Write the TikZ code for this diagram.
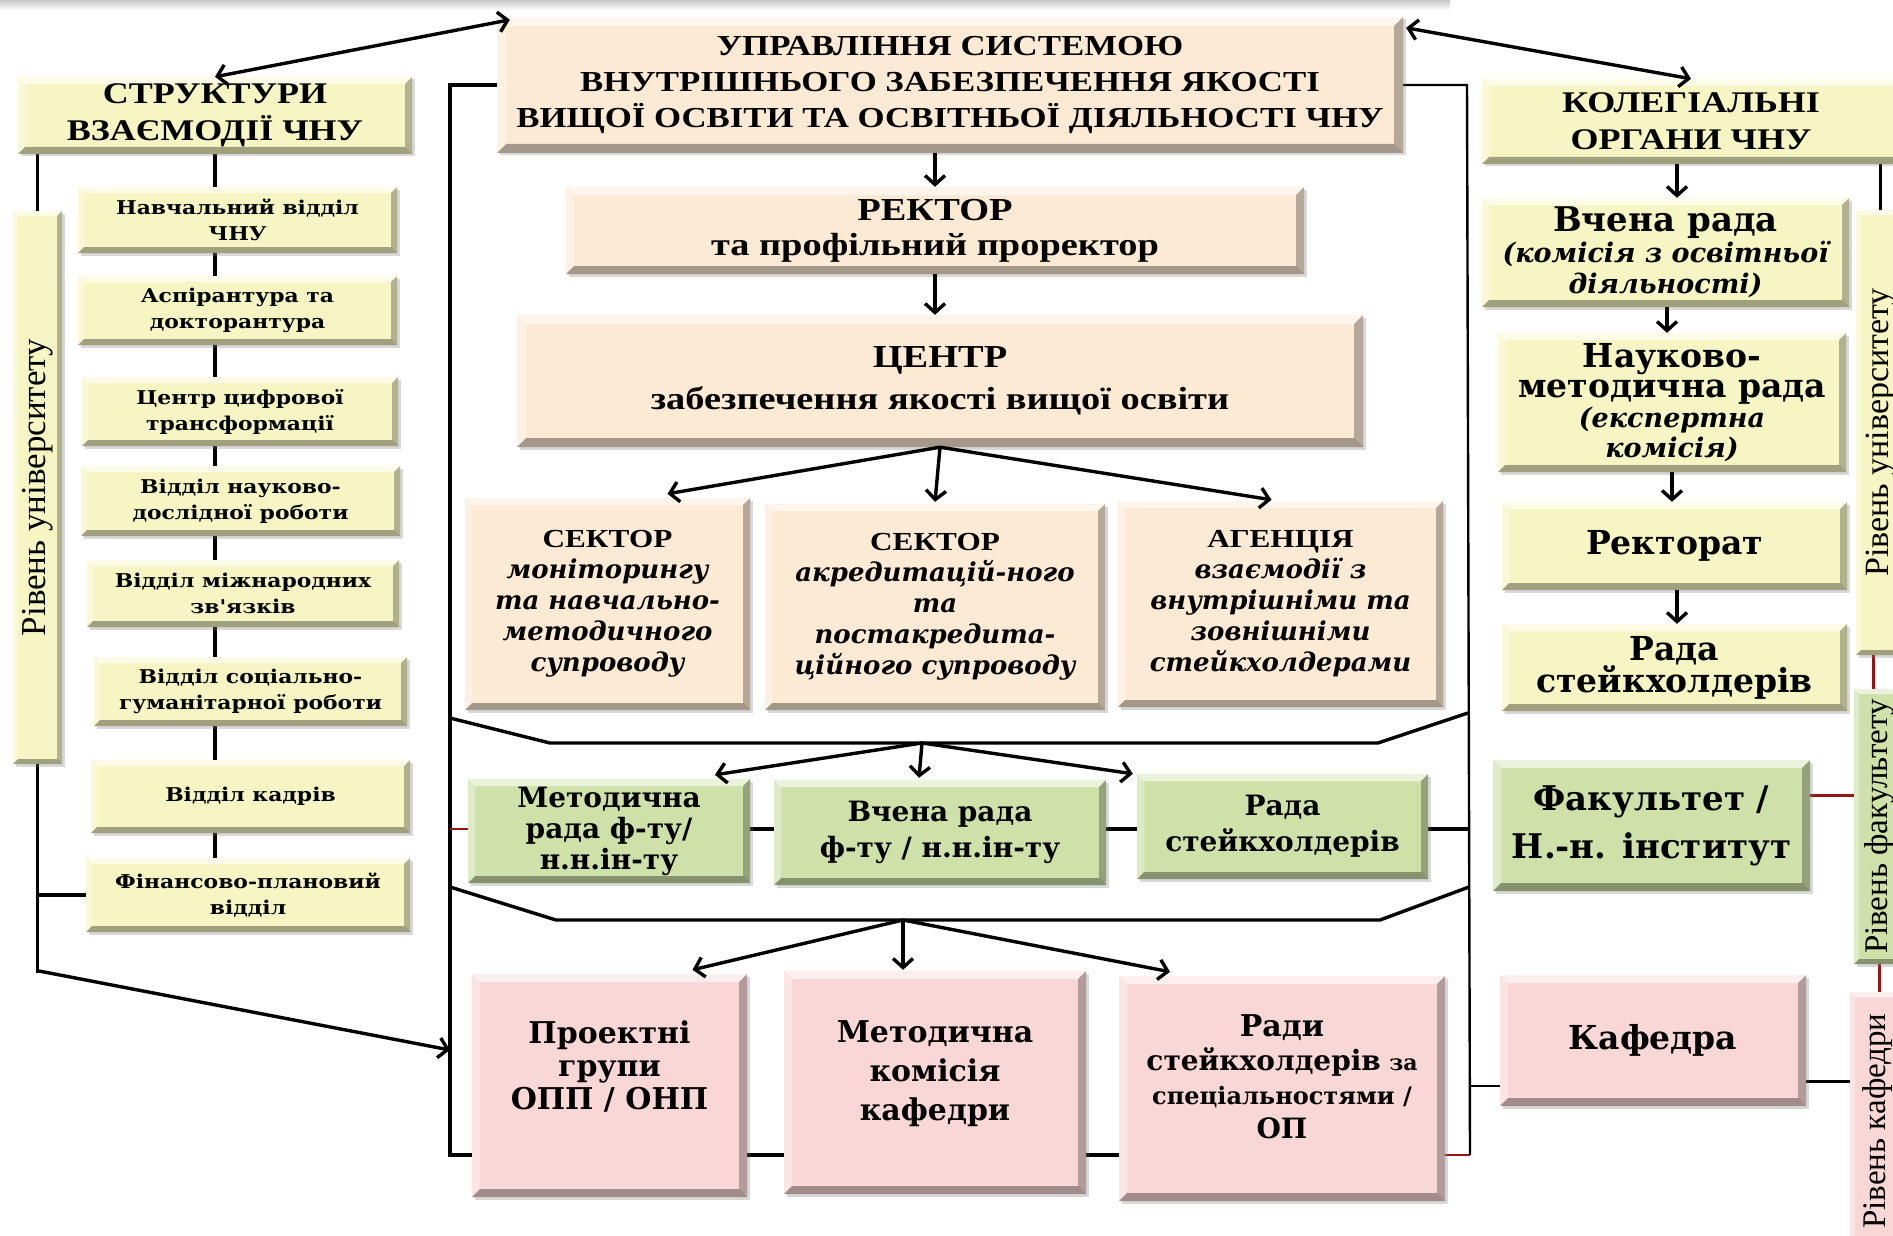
\documentclass[tikz,border=0pt]{standalone}
\usepackage{fontspec}
\usepackage{graphicx}
\newfontfamily\tnr{Liberation Serif}[FakeStretch=1.2]
\newfontfamily\tnrr{Liberation Serif}
\newfontfamily\bkm{DejaVu Serif}
\newfontfamily\bkmw{DejaVu Serif}[FakeStretch=1.15]
\usetikzlibrary{arrows.meta,shadows,calc}
\definecolor{cYel}{RGB}{246,246,196}
\definecolor{cSand}{RGB}{253,234,212}
\definecolor{cGrn}{RGB}{207,225,168}
\definecolor{cPnk}{RGB}{250,215,215}
\definecolor{cRed}{RGB}{150,20,20}
\pgfdeclarelayer{bg}
\pgfsetlayers{bg,main}
\tikzset{
  bev/.style={path picture={
    \fill[white,opacity=.6] (path picture bounding box.north west) -- (path picture bounding box.north east) -- ([shift={(-#1,#1)}]path picture bounding box.north east) -- ([shift={(#1,#1)}]path picture bounding box.north west) -- cycle;
    \fill[white,opacity=.35] (path picture bounding box.north west) -- ([shift={(#1,#1)}]path picture bounding box.north west) -- ([shift={(#1,-#1)}]path picture bounding box.south west) -- (path picture bounding box.south west) -- cycle;
    \fill[black,opacity=.35] (path picture bounding box.south west) -- ([shift={(#1,-#1)}]path picture bounding box.south west) -- ([shift={(-#1,-#1)}]path picture bounding box.south east) -- (path picture bounding box.south east) -- cycle;
    \fill[black,opacity=.28] (path picture bounding box.north east) -- (path picture bounding box.south east) -- ([shift={(-#1,-#1)}]path picture bounding box.south east) -- ([shift={(-#1,#1)}]path picture bounding box.north east) -- cycle;
  }},
  bev/.default=7,
  bx/.style={inner sep=1pt, align=center, bev, drop shadow={shadow xshift=2.5pt,shadow yshift=-2.5pt,opacity=.3}},
  ln/.style={line width=3.4pt},
  thinln/.style={line width=2.4pt},
  rd/.style={line width=2.6pt, draw=cRed},
  arr/.style={ln,-{Straight Barb[length=9pt,width=20pt]}},
  darr/.style={ln,{Straight Barb[length=9pt,width=20pt]}-{Straight Barb[length=9pt,width=20pt]}},
  fLeft/.style={font=\bkmw\bfseries\fontsize{19}{26}\selectfont},
  fSec/.style={font=\bkm\bfseries\itshape\fontsize{26}{31}\selectfont},
}
\newcommand\mybox[7]{\node[bx,#6,minimum width={(#4)-(#2)},minimum height={(#5)-(#3)}] (#1) at ({((#2)+(#4))/2},{((#3)+(#5))/2}) {#7};}
\begin{document}
\begin{tikzpicture}[x=1pt,y=-1pt]
\useasboundingbox (0,0) rectangle (1893,1236);
\clip (0,0) rectangle (1893,1236);
\begin{pgfonlayer}{bg}
\fill[white] (0,0) rectangle (1893,1236);
\shade[top color=black!22, bottom color=white] (0,0) rectangle (1450,10);
\end{pgfonlayer}

% ---------- left column
\mybox{STR}{18}{77}{412}{154}{fill=cYel,font=\tnr\bfseries\fontsize{30}{37}\selectfont}{СТРУКТУРИ\\ВЗАЄМОДІЇ ЧНУ}
\mybox{N1}{78}{187}{397}{253}{fill=cYel,fLeft,bev=6}{Навчальний відділ\\ЧНУ}
\mybox{N2}{78}{276}{397}{345}{fill=cYel,fLeft,bev=6}{Аспірантура та\\докторантура}
\mybox{N3}{82}{377}{398}{446}{fill=cYel,fLeft,bev=6}{Центр цифрової\\трансформації}
\mybox{N4}{81}{466}{400}{536}{fill=cYel,fLeft,bev=6}{Відділ науково-\\дослідної роботи}
\mybox{N5}{87}{560}{399}{627}{fill=cYel,fLeft,bev=6}{Відділ міжнародних\\зв'язків}
\mybox{N6}{94}{657}{407}{726}{fill=cYel,fLeft,bev=6}{Відділ соціально-\\гуманітарної роботи}
\mybox{N7}{91}{760}{410}{833}{fill=cYel,fLeft,bev=6}{Відділ кадрів}
\mybox{N8}{86}{858}{410}{932}{fill=cYel,fLeft,bev=6}{Фінансово-плановий\\відділ}
\mybox{RV1}{13}{211}{62}{764}{fill=cYel,bev=5}{\rotatebox{90}{\tnrr\fontsize{35}{35}\selectfont Рівень університету}}

% ---------- centre column
\mybox{UPR}{497}{17}{1403}{153}{fill=cSand,bev=9,font=\tnr\bfseries\fontsize{29}{36}\selectfont}{УПРАВЛІННЯ СИСТЕМОЮ\\ВНУТРІШНЬОГО ЗАБЕЗПЕЧЕННЯ ЯКОСТІ\\ВИЩОЇ ОСВІТИ ТА ОСВІТНЬОЇ ДІЯЛЬНОСТІ ЧНУ}
\mybox{REK}{566}{187}{1304}{274}{fill=cSand,bev=8,font=\tnr\bfseries\fontsize{32}{35}\selectfont}{РЕКТОР\\та профільний проректор}
\mybox{CEN}{517}{315}{1363}{447}{fill=cSand,bev=9,font=\tnr\bfseries\fontsize{32}{42}\selectfont}{ЦЕНТР\\забезпечення якості вищої освіти}
\mybox{S1}{465}{498}{750}{710}{fill=cSand,fSec}{{\tnr\upshape СЕКТОР}\\моніторингу\\та навчально-\\методичного\\супроводу}
\mybox{S2}{765}{504}{1105}{710}{fill=cSand,fSec}{{\tnr\upshape СЕКТОР}\\акредитацій-ного\\та\\постакредита-\\ційного супроводу}
\mybox{AG}{1118}{501}{1443}{707}{fill=cSand,fSec}{{\tnr\upshape АГЕНЦІЯ}\\взаємодії з\\внутрішніми та\\зовнішніми\\стейкхолдерами}
\mybox{M1}{468}{779}{750}{883}{fill=cGrn,font=\bkm\bfseries\fontsize{28}{31}\selectfont}{Методична\\рада ф-ту/\\н.н.ін-ту}
\mybox{V1}{774}{780}{1106}{885}{fill=cGrn,font=\bkm\bfseries\fontsize{28}{36}\selectfont}{Вчена рада\\ф-ту / н.н.ін-ту}
\mybox{R1}{1137}{774}{1428}{879}{fill=cGrn,font=\bkm\bfseries\fontsize{28}{36}\selectfont}{Рада\\стейкхолдерів}
\mybox{P1}{472}{974}{747}{1197}{fill=cPnk,bev=8,font=\bkm\bfseries\fontsize{30}{33}\selectfont}{Проектні\\групи\\ОПП / ОНП\\[8pt]\mbox{}}
\mybox{MK}{784}{971}{1086}{1194}{fill=cPnk,bev=8,font=\bkm\bfseries\fontsize{30}{39}\selectfont}{Методична\\комісія\\кафедри\\[-15pt]\mbox{}}
\mybox{RS}{1119}{976}{1445}{1201}{fill=cPnk,bev=8,font=\bkm\bfseries\fontsize{24}{34}\selectfont}{{\fontsize{30}{34}\selectfont Ради}\\{\fontsize{28}{34}\selectfont стейкхолдерів} {\fontsize{22}{34}\selectfont за}\\спеціальностями /\\{\fontsize{28}{34}\selectfont ОП}\\[-10pt]\mbox{}}

% ---------- right column
\mybox{KOL}{1482}{79}{1900}{164}{fill=cYel,font=\tnr\bfseries\fontsize{30}{37}\selectfont}{КОЛЕГІАЛЬНІ\\ОРГАНИ ЧНУ}
\mybox{VR}{1482}{198}{1849}{307}{fill=cYel,font=\bkm\bfseries\itshape\fontsize{27}{31}\selectfont}{{\upshape\fontsize{34}{31}\selectfont Вчена рада}\\(комісія з освітньої\\діяльності)}
\mybox{NMR}{1498}{333}{1846}{472}{fill=cYel,font=\bkm\bfseries\itshape\fontsize{27}{30}\selectfont}{{\upshape\fontsize{33}{30}\selectfont Науково-}\\{\upshape\fontsize{33}{30}\selectfont методична рада}\\(експертна\\комісія)}
\mybox{RKT}{1502}{502}{1847}{590}{fill=cYel,font=\bkm\bfseries\fontsize{33}{33}\selectfont}{Ректорат}
\mybox{RST}{1502}{624}{1847}{711}{fill=cYel,font=\bkm\bfseries\fontsize{33}{32}\selectfont}{Рада\\стейкхолдерів}
\mybox{FAK}{1493}{760}{1810}{891}{fill=cGrn,bev=8,font=\bkm\bfseries\fontsize{34}{48}\selectfont}{Факультет /\\Н.-н. інститут}
\mybox{KAF}{1500}{975}{1806}{1106}{fill=cPnk,bev=8,font=\bkm\bfseries\fontsize{33}{33}\selectfont}{Кафедра}
\mybox{RU}{1856}{210}{1905}{655}{fill=cYel,bev=5}{\rotatebox{90}{\tnrr\fontsize{34}{34}\selectfont Рівень університету}}
\mybox{RF}{1854}{689}{1905}{964}{fill=cGrn,bev=5}{\rotatebox{90}{\tnrr\fontsize{33}{33}\selectfont Рівень факультету}}
\mybox{RK}{1850}{992}{1905}{1250}{fill=cPnk,bev=5}{\rotatebox{90}{\tnrr\fontsize{33}{33}\selectfont Рівень кафедри}}

% ---------- connectors
\draw[darr] (STR.north) -- ([xshift=13pt,yshift=-3pt]UPR.north west);
\draw[darr] (KOL.north) -- ([xshift=3pt,yshift=-11pt]UPR.north east);
\draw[arr] (UPR.south -| REK.north) -- (REK.north);
\draw[arr] (REK.south) -- (REK.south |- CEN.north);
\draw[arr] (CEN.south) -- ([xshift=60pt,yshift=4pt]S1.north);
\draw[arr] (CEN.south) -- ([yshift=2pt]S2.north);
\draw[arr] (CEN.south) -- ([xshift=-9pt,yshift=1pt]AG.north);

\coordinate (LT) at (450,85);
\coordinate (LB) at (450,1155);
\coordinate (RT) at (1467,85);
\coordinate (RB) at (1470,1155);
\coordinate (F1a) at (450,718);
\coordinate (F1b) at (550,743);
\coordinate (F1c) at (922,743);
\coordinate (F1d) at (1378,743);
\coordinate (F1e) at (1468,713);
\coordinate (F2a) at (450,887);
\coordinate (F2b) at (556,920);
\coordinate (F2c) at (903,920);
\coordinate (F2d) at (1380,920);
\coordinate (F2e) at (1469,887);
\coordinate (ML) at (450,829);
\coordinate (MR) at (1468,829);
\coordinate (KL) at (1469,1086);
\coordinate (LC) at (39,971);
\coordinate (LA) at (450,1050);

\draw[arr] (F1c) -- ([xshift=106pt,yshift=4pt]M1.north);
\draw[arr] (F1c) -- ([xshift=-21pt,yshift=2pt]V1.north);
\draw[arr] (F1c) -- ([xshift=-4pt]R1.north west);
\draw[arr] (F2c) -- ([xshift=83pt,yshift=4pt]P1.north);
\draw[arr] (F2c) -- ([xshift=-32pt,yshift=1pt]MK.north);
\draw[arr] (F2c) -- ([xshift=-112pt,yshift=4pt]RS.north);
\draw[arr] (LC) -- (LA);

\draw[arr] ([xshift=-14pt]KOL.south) -- ([xshift=-14pt]KOL.south |- VR.north);
\draw[arr] ([xshift=1.5pt]VR.south) -- ([xshift=1.5pt]VR.south |- NMR.north);
\draw[arr] (NMR.south) -- (NMR.south |- RKT.north);
\draw[arr] ([xshift=2.5pt]RKT.south) -- ([xshift=2.5pt]RKT.south |- RST.north);

\begin{pgfonlayer}{bg}
\draw[ln] (UPR.west) -- (LT) -- (LB) -- (LB -| RS.east);
\draw[rd] (LB -| RS.east) -- (RB);
\draw[thinln] (RB) -- (RT) -- (UPR.east);
\draw[ln] (F1a) -- (F1b) -- (F1d) -- (F1e);
\draw[ln] (F2a) -- (F2b) -- (F2d) -- (F2e);
\draw[rd] (ML) -- (ML -| M1.west);
\draw[ln] (ML -| M1.east) -- (MR);
\draw[thinln] (KL) -- (KL -| KAF.west);
\draw[ln] (STR.south) -- (STR.south |- N8.north);
\draw[ln] (RV1.north |- STR.south) -- (RV1.north);
\draw[ln] (RV1.south) -- (RV1.south |- LC) -- (LC);
\draw[ln] (RV1.south |- N8.west) -- (N8.west);
\draw[thinln] (RU.north |- KOL.south) -- (RU.north);
\draw[rd] ([xshift=-7pt]RU.south) -- ([xshift=-7pt]RU.south |- RF.north);
\draw[rd] ([yshift=30pt]FAK.east) -- ([yshift=30pt]FAK.east -| RF.west);
\draw[rd] (RF.south) -- (RF.south |- RK.north);
\draw[thinln] ([yshift=-41pt]KAF.east) -- ([yshift=-41pt]KAF.east -| RK.west);
\end{pgfonlayer}
\end{tikzpicture}
\end{document}
